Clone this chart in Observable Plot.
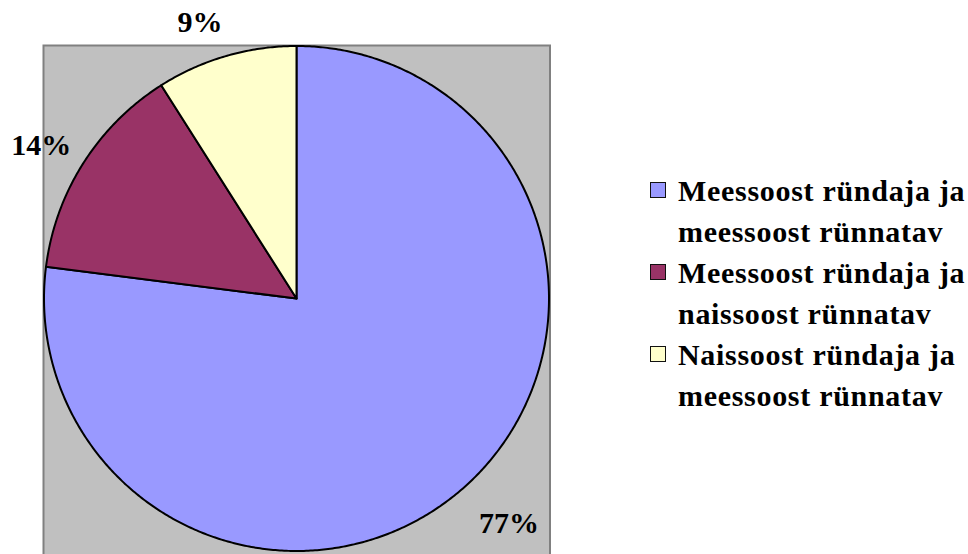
<!DOCTYPE html>
<html><head><meta charset="utf-8">
<script src="https://cdn.jsdelivr.net/npm/d3@7"></script>
<script src="https://cdn.jsdelivr.net/npm/@observablehq/plot@0.6"></script>
<style>
body{margin:0;background:#fff;}
#wrap{position:relative;width:968px;height:554px;overflow:hidden;}
#legend{position:absolute;left:650px;top:170px;font-family:"Liberation Serif","Times New Roman",serif;font-weight:bold;font-size:30px;letter-spacing:0.7px;line-height:41px;color:#000;white-space:nowrap;}
.item{position:relative;padding-left:28px;}
.sw{position:absolute;left:0;top:12px;width:14px;height:14px;border:1.5px solid #111;}
</style></head><body><div id="wrap"></div>
<script>
const categories = ["Meessoost ründaja ja meessoost rünnatav","Meessoost ründaja ja naissoost rünnatav","Naissoost ründaja ja meessoost rünnatav"];
const percents = [77, 14, 9];
const colors = ["#9999FF", "#993366", "#FFFFCC"];
const labels = ["77%", "14%", "9%"];

const total = d3.sum(percents);
let acc = 0;
const pts = [];
const mids = [];
percents.forEach((v, i) => {
  const a0 = acc / total * 2 * Math.PI, a1 = (acc + v) / total * 2 * Math.PI;
  acc += v;
  const n = Math.max(2, Math.ceil((a1 - a0) / (Math.PI / 360)));
  pts.push({cat: categories[i], x: 0, y: 0});
  for (let k = 0; k <= n; k++) {
    const a = a0 + (a1 - a0) * k / n;
    pts.push({cat: categories[i], x: Math.sin(a), y: Math.cos(a)});
  }
  pts.push({cat: categories[i], x: 0, y: 0});
  const m = (a0 + a1) / 2;
  mids.push({label: labels[i], x: 1.12 * Math.sin(m), y: 1.12 * Math.cos(m)});
});

const labelShift = [[25.5, 13], [-16.5, -2], [-17.5, -5]];
const font = '"Liberation Serif","Times New Roman",serif';

const chart = Plot.plot({
  width: 968,
  height: 554,
  marginLeft: 43.5,
  marginRight: 419.5,
  marginTop: 45.5,
  marginBottom: 3.5,
  x: {domain: [-1, 1], axis: null},
  y: {domain: [-1, 1], axis: null},
  color: {domain: categories, range: colors},
  style: {background: "#fff", overflow: "hidden"},
  marks: [
    Plot.frame({fill: "#c0c0c0", stroke: "#808080", strokeWidth: 2, insetLeft: -0.5, insetTop: -0.5, insetRight: -1, insetBottom: -12}),
    Plot.line(pts, {x: "x", y: "y", z: "cat", fill: "cat", stroke: "#000", strokeWidth: 2, curve: "linear", strokeLinejoin: "round"}),
    ...mids.map((d, i) => Plot.text([d], {x: "x", y: "y", text: "label", dx: labelShift[i][0], dy: labelShift[i][1], fontSize: 30, fontWeight: "bold", fontFamily: font, fill: "#000"}))
  ]
});
const wrap = document.getElementById("wrap");
wrap.appendChild(chart);

const legend = document.createElement("div");
legend.id = "legend";
categories.forEach((c, i) => {
  const words = c.split(" ");
  const item = document.createElement("div");
  item.className = "item";
  const sw = document.createElement("div");
  sw.className = "sw";
  sw.style.background = colors[i];
  item.appendChild(sw);
  const l1 = document.createElement("div");
  l1.textContent = words.slice(0, 3).join(" ");
  const l2 = document.createElement("div");
  l2.textContent = words.slice(3).join(" ");
  item.appendChild(l1);
  item.appendChild(l2);
  legend.appendChild(item);
});
wrap.appendChild(legend);
</script></body></html>
